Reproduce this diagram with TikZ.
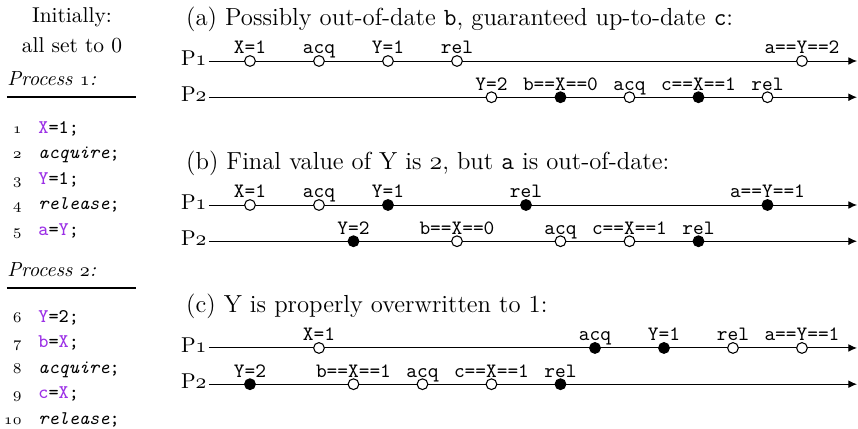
\documentclass[tikz,border=0pt]{standalone}
\usepackage{tikz}
\usetikzlibrary{positioning}
\usetikzlibrary{arrows.meta}
\definecolor{varcol}{RGB}{155,48,230}
\newcommand{\osf}[1]{$\mathnormal{#1}$}
\newcommand{\var}[1]{\textcolor{varcol}{#1}}

\begin{document}
\begin{tikzpicture}[x=1.13cm, y=1.13cm,
  tline/.style={line width=0.45pt, -{Latex[length=4pt,width=3.6pt]}},
  opnode/.style={circle, draw, line width=0.5pt, fill=white, inner sep=0pt, minimum size=5pt},
  clnode/.style={opnode, fill=black},
  evlabel/.style={anchor=base, inner sep=0pt, font=\fontsize{9.5}{11}\selectfont\ttfamily},
  title/.style={anchor=base west, inner sep=0pt},
  bigtitle/.style={title, font=\fontsize{11.5}{14}\selectfont},
  prochead/.style={title, font=\fontsize{9.5}{11}\selectfont\itshape},
  procname/.style={anchor=base east, inner sep=1pt},
  codeline/.style={anchor=base west, inner sep=0pt, font=\small\ttfamily},
  lineno/.style={anchor=base east, inner sep=0pt, font=\scriptsize},
]
\useasboundingbox (-3.623,0) rectangle (8.812,-6.217);

%---------------------------------------
% Shared values
%---------------------------------------
\def\xs{-0.594}   % start of the time lines
\def\xe{8.797}    % arrow end
\def\gap{0.525}   % P1 -> P2
\def\ya{-0.884}
\def\yb{-2.971}
\def\yc{-5.043}
\def\dl{0.3695}   % code line spacing

%====================================================
% LEFT COLUMN: the two processes
%====================================================
\node[anchor=base] (init1) at (-2.58,-0.333) {Initially:};
\node[anchor=base] (init2) at (-2.58,-0.754) {all set to 0};

% Process 1
\node[prochead] (proc1) at (-3.522,-1.232) {Process \osf{1}:};
\coordinate (r1s) at (-3.522,-1.406);
\coordinate (r1e) at (-1.652,-1.406);
\draw[line width=0.5pt] (r1s) -- (r1e);
\foreach \code [count=\i] in {{\var{X}=1;}, {\textit{acquire};}, {\var{Y}=1;},
                              {\textit{release};}, {\var{a}=\var{Y};}}{
  \node[lineno] (n\i) at (-3.304,{-1.928-(\i-1)*\dl}) {\osf{\i}};
  \node[codeline] (c\i) at (-3.072,{-1.928-(\i-1)*\dl}) {\code};
}

% Process 2
\node[prochead] (proc2) at (-3.522,-4.0) {Process \osf{2}:};
\coordinate (r2s) at (-3.522,-4.174);
\coordinate (r2e) at (-1.652,-4.174);
\draw[line width=0.5pt] (r2s) -- (r2e);
\foreach \code [count=\i from 6] in {{\var{Y}=2;}, {\var{b}=\var{X};}, {\textit{acquire};},
                                     {\var{c}=\var{X};}, {\textit{release};}}{
  \node[lineno] (n\i) at (-3.304,{-4.667-(\i-6)*\dl}) {\osf{\i}};
  \node[codeline] (c\i) at (-3.072,{-4.667-(\i-6)*\dl}) {\code};
}

%====================================================
% (a)
%====================================================
\begin{scope}[shift={(0,\ya)}]
  \node[bigtitle] (ta) at (-0.93,0.51)
    {(a) Possibly out-of-date \texttt{b}, guaranteed up-to-date \texttt{c}:};

  % P1
  \coordinate (a1s) at (\xs,0);
  \coordinate (a1e) at (\xe,0);
  \draw[tline] (a1s) -- (a1e);
  \node[procname] (pa1) at ([yshift=-1.9pt]a1s) {P\osf{1}};
  \foreach \x/\sty/\lab [count=\i] in {0/opnode/X=1, 1/opnode/acq, 2/opnode/Y=1,
                                       3/opnode/rel, 8/opnode/a==Y==2}{
    \node[\sty] (a1-\i) at (\x,0) {};
    \node[evlabel] (a1-\i-l) at ([yshift=3.3pt]a1-\i.center) {\lab};
  }

  % P2
  \coordinate (a2s) at (\xs,-\gap);
  \coordinate (a2e) at (\xe,-\gap);
  \draw[tline] (a2s) -- (a2e);
  \node[procname] (pa2) at ([yshift=-1.9pt]a2s) {P\osf{2}};
  \foreach \x/\sty/\lab [count=\i] in {3.5/opnode/Y=2, 4.5/clnode/b==X==0, 5.5/opnode/acq,
                                       6.5/clnode/c==X==1, 7.5/opnode/rel}{
    \node[\sty] (a2-\i) at (\x,-\gap) {};
    \node[evlabel] (a2-\i-l) at ([yshift=3.3pt]a2-\i.center) {\lab};
  }
\end{scope}

%====================================================
% (b)
%====================================================
\begin{scope}[shift={(0,\yb)}]
  \node[bigtitle] (tb) at (-0.93,0.51)
    {(b) Final value of Y is \osf{2}, but \texttt{a} is out-of-date:};

  % P1
  \coordinate (b1s) at (\xs,0);
  \coordinate (b1e) at (\xe,0);
  \draw[tline] (b1s) -- (b1e);
  \node[procname] (pb1) at ([yshift=-1.9pt]b1s) {P\osf{1}};
  \foreach \x/\sty/\lab [count=\i] in {0/opnode/X=1, 1/opnode/acq, 2/clnode/Y=1,
                                       4/clnode/rel, 7.5/clnode/a==Y==1}{
    \node[\sty] (b1-\i) at (\x,0) {};
    \node[evlabel] (b1-\i-l) at ([yshift=3.3pt]b1-\i.center) {\lab};
  }

  % P2
  \coordinate (b2s) at (\xs,-\gap);
  \coordinate (b2e) at (\xe,-\gap);
  \draw[tline] (b2s) -- (b2e);
  \node[procname] (pb2) at ([yshift=-1.9pt]b2s) {P\osf{2}};
  \foreach \x/\sty/\lab [count=\i] in {1.5/clnode/Y=2, 3/opnode/b==X==0, 4.5/opnode/acq,
                                       5.5/opnode/c==X==1, 6.5/clnode/rel}{
    \node[\sty] (b2-\i) at (\x,-\gap) {};
    \node[evlabel] (b2-\i-l) at ([yshift=3.3pt]b2-\i.center) {\lab};
  }
\end{scope}

%====================================================
% (c)
%====================================================
\begin{scope}[shift={(0,\yc)}]
  \node[bigtitle] (tc) at (-0.93,0.51)
    {(c) Y is properly overwritten to 1:};

  % P1
  \coordinate (c1s) at (\xs,0);
  \coordinate (c1e) at (\xe,0);
  \draw[tline] (c1s) -- (c1e);
  \node[procname] (pc1) at ([yshift=-1.9pt]c1s) {P\osf{1}};
  \foreach \x/\sty/\lab [count=\i] in {1/opnode/X=1, 5/clnode/acq, 6/clnode/Y=1,
                                       7/opnode/rel, 8/opnode/a==Y==1}{
    \node[\sty] (c1-\i) at (\x,0) {};
    \node[evlabel] (c1-\i-l) at ([yshift=3.3pt]c1-\i.center) {\lab};
  }

  % P2
  \coordinate (c2s) at (\xs,-\gap);
  \coordinate (c2e) at (\xe,-\gap);
  \draw[tline] (c2s) -- (c2e);
  \node[procname] (pc2) at ([yshift=-1.9pt]c2s) {P\osf{2}};
  \foreach \x/\sty/\lab [count=\i] in {0/clnode/Y=2, 1.5/opnode/b==X==1, 2.5/opnode/acq,
                                       3.5/opnode/c==X==1, 4.5/clnode/rel}{
    \node[\sty] (c2-\i) at (\x,-\gap) {};
    \node[evlabel] (c2-\i-l) at ([yshift=3.3pt]c2-\i.center) {\lab};
  }
\end{scope}

\end{tikzpicture}
\end{document}
